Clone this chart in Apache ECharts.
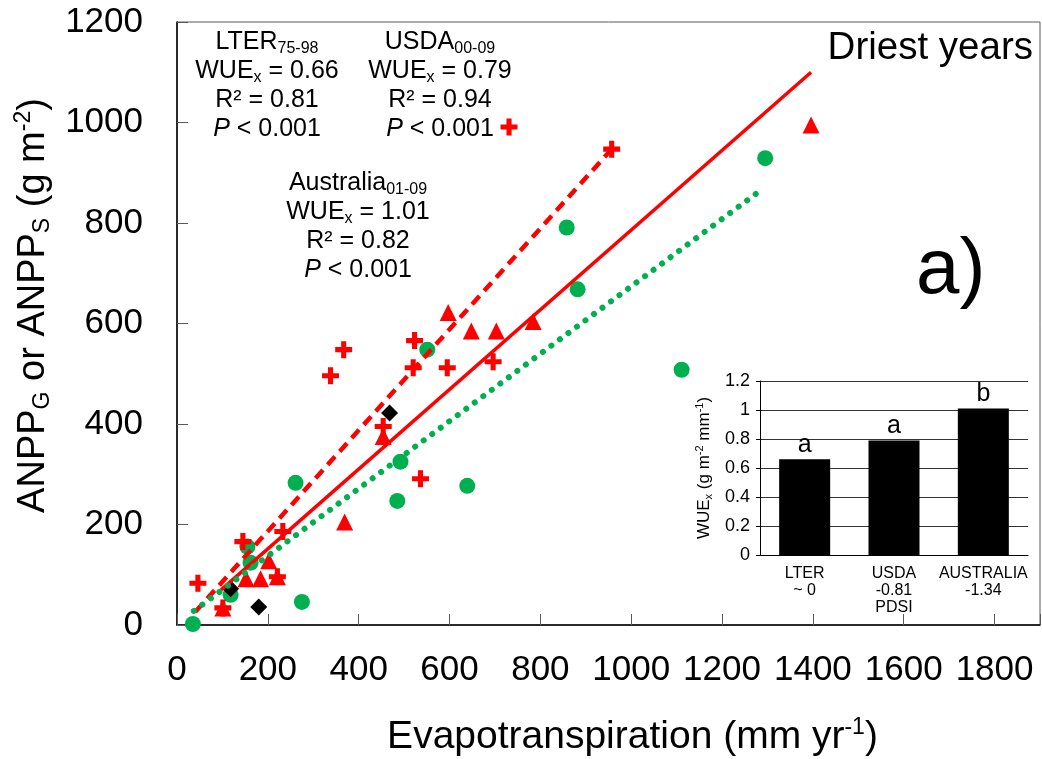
<!DOCTYPE html>
<html>
<head>
<meta charset="utf-8">
<script src="https://cdn.jsdelivr.net/npm/echarts@6/dist/echarts.min.js"></script>
<style>
  html, body { margin: 0; padding: 0; background: #fff; }
  #chart { width: 1042px; height: 759px; }
</style>
</head>
<body>
<div id="chart"></div>
<script>
// USDA 00-09 (red crosses)
const usdaX = [46, 101, 145, 221, 233, 338, 367, 454, 520, 523, 536, 595, 696, 731, 957]
const usdaY = [83, 34, 166, 96, 186, 496, 548, 395, 512, 566, 291, 512, 524, 991, 947]
// LTER 75-98 (red triangles)
const lterX = [101, 152, 184, 202, 221, 369, 454, 597, 648, 703, 784, 1396]
const lterY = [34, 92, 92, 128, 96, 205, 375, 622, 585, 585, 604, 995]
// Australia 01-09 (green circles)
const austX = [35, 118, 155, 162, 261, 275, 485, 492, 551, 639, 858, 882, 1111, 1295]
const austY = [2, 60, 156, 124, 283, 46, 247, 325, 548, 277, 791, 668, 508, 929]
// black diamonds
const otherX = [118, 180, 468]
const otherY = [72, 36, 422]
// fitted lines (end points)
const lterFitX = [97, 1396]
const lterFitY = [70, 1100]
const usdaFitX = [40, 957]
const usdaFitY = [26, 947]
const austFitX = [37, 1282]
const austFitY = [28, 863]
// inset bars
const insetCats = ['LTER\n~ 0', 'USDA\n-0.81\nPDSI', 'AUSTRALIA\n-1.34']
const insetWue = [0.66, 0.79, 1.01]
const insetLetters = ['a', 'a', 'b']

const FONT = 'Liberation Sans, Arial, sans-serif'
const RED = '#ff0000'
const GREEN = '#00b050'
const CROSS = 'path://M3.5,0H6.5V3.5H10V6.5H6.5V10H3.5V6.5H0V3.5H3.5Z'

const zip = (xs, ys) => xs.map((x, i) => [x, ys[i]])

const rich = {
  n: { fontSize: 25, lineHeight: 29, fontFamily: FONT, color: '#000' },
  i: { fontSize: 25, lineHeight: 29, fontFamily: FONT, fontStyle: 'italic', color: '#000' },
  sub: { fontSize: 16, lineHeight: 12, fontFamily: FONT, verticalAlign: 'bottom', color: '#000' }
}

function note(x, y, text) {
  return {
    type: 'text', x: x, y: y, z: 100,
    style: { text: text, rich: rich, align: 'center', textAlign: 'center', verticalAlign: 'top', textVerticalAlign: 'top' }
  }
}

const chart = echarts.init(document.getElementById('chart'))
chart.setOption({
  backgroundColor: '#fff',
  animation: false,
  textStyle: { fontFamily: FONT },
  grid: [
    { left: 177, top: 22, width: 863, height: 603, outerBoundsMode: 'none', containLabel: false,
      show: true, borderColor: '#595959', borderWidth: 1 },
    { left: 760, top: 381, width: 268, height: 174, outerBoundsMode: 'none', containLabel: false }
  ],
  xAxis: [{
    gridIndex: 0,
    type: 'value', min: 0, max: 1900, interval: 200,
    name: '{n|Evapotranspiration (mm yr}{sup|-1}{n|)}',
    nameLocation: 'middle', nameGap: 91,
    nameTextStyle: {
      padding: [0, 0, 0, 48],
      rich: {
        n: { fontSize: 39, fontFamily: FONT, color: '#000', lineHeight: 42 },
        sup: { fontSize: 23, fontFamily: FONT, color: '#000', lineHeight: 22, verticalAlign: 'top' }
      }
    },
    axisLine: { lineStyle: { color: '#000', width: 1.5 } },
    axisTick: { inside: true, length: 11, lineStyle: { color: '#595959' } },
    axisLabel: { fontSize: 35, color: '#000', margin: 28, formatter: v => (v > 1800 ? '' : String(v)) },
    splitLine: { show: false }
  }, {
    gridIndex: 1,
    type: 'category', data: insetCats,
    axisLine: { lineStyle: { color: '#000' } },
    axisTick: { length: 5, lineStyle: { color: '#000' } },
    axisLabel: { fontSize: 16, lineHeight: 17, color: '#000', margin: 10, interval: 0 }
  }],
  yAxis: [{
    gridIndex: 0,
    type: 'value', min: 0, max: 1200, interval: 200,
    name: '{n|ANPP}{sub|G}{n| or ANPP}{sub|S}{n| (g m}{sup|-2}{n|)}',
    nameLocation: 'middle', nameGap: 122,
    nameTextStyle: {
      padding: [0, 0, 0, 36],
      rich: {
        n: { fontSize: 38, fontFamily: FONT, color: '#000', lineHeight: 42 },
        sub: { fontSize: 23, fontFamily: FONT, color: '#000', lineHeight: 18, verticalAlign: 'bottom' },
        sup: { fontSize: 23, fontFamily: FONT, color: '#000', lineHeight: 22, verticalAlign: 'top' }
      }
    },
    axisLine: { lineStyle: { color: '#000', width: 1.5 } },
    axisTick: { inside: true, length: 11, lineStyle: { color: '#595959' } },
    axisLabel: { fontSize: 35, color: '#000', margin: 34, formatter: v => String(v) },
    splitLine: { show: false }
  }, {
    gridIndex: 1,
    type: 'value', min: 0, max: 1.2, interval: 0.2,
    name: '{n|WUE}{sub|x}{n| (g m}{sup|-2}{n| mm}{sup|-1}{n|)}',
    nameLocation: 'middle', nameGap: 46,
    nameTextStyle: {
      rich: {
        n: { fontSize: 17, fontFamily: FONT, color: '#000', lineHeight: 20 },
        sub: { fontSize: 11, fontFamily: FONT, color: '#000', lineHeight: 9, verticalAlign: 'bottom' },
        sup: { fontSize: 11, fontFamily: FONT, color: '#000', lineHeight: 10, verticalAlign: 'top' }
      }
    },
    axisLine: { show: true, lineStyle: { color: '#000' } },
    axisTick: { show: true, length: 4, lineStyle: { color: '#000' } },
    axisLabel: { fontSize: 18, color: '#000', margin: 10, formatter: v => String(+v.toFixed(1)) },
    splitLine: { show: true, lineStyle: { color: '#333', width: 1 } }
  }],
  series: [
    {
      name: 'Australia', type: 'scatter', xAxisIndex: 0, yAxisIndex: 0,
      symbol: 'circle', symbolSize: 16, itemStyle: { color: GREEN, opacity: 1 },
      data: zip(austX, austY), z: 2
    },
    {
      name: 'Other', type: 'scatter', xAxisIndex: 0, yAxisIndex: 0,
      symbol: 'diamond', symbolSize: 17, itemStyle: { color: '#000', opacity: 1 },
      data: zip(otherX, otherY), z: 3
    },
    {
      name: 'LTER', type: 'scatter', xAxisIndex: 0, yAxisIndex: 0,
      symbol: 'triangle', symbolSize: 17, itemStyle: { color: RED, opacity: 1 },
      data: zip(lterX, lterY), z: 3
    },
    {
      name: 'USDA', type: 'scatter', xAxisIndex: 0, yAxisIndex: 0,
      symbol: CROSS, symbolSize: 17, itemStyle: { color: RED, opacity: 1 },
      data: zip(usdaX, usdaY), z: 4
    },
    {
      name: 'LTER fit', type: 'line', xAxisIndex: 0, yAxisIndex: 0,
      data: zip(lterFitX, lterFitY), showSymbol: false, z: 5,
      lineStyle: { color: RED, width: 3.5 }
    },
    {
      name: 'USDA fit', type: 'line', xAxisIndex: 0, yAxisIndex: 0,
      data: zip(usdaFitX, usdaFitY), showSymbol: false, z: 5,
      lineStyle: { color: RED, width: 4.5, type: [11, 7] }
    },
    {
      name: 'Australia fit', type: 'line', xAxisIndex: 0, yAxisIndex: 0,
      data: zip(austFitX, austFitY), showSymbol: false, z: 5,
      lineStyle: { color: GREEN, width: 6, type: [0.1, 10.5], cap: 'round' }
    },
    {
      name: 'WUEx', type: 'bar', xAxisIndex: 1, yAxisIndex: 1,
      data: insetWue, barWidth: 51,
      itemStyle: { color: '#000' },
      label: {
        show: true, position: 'top', distance: 2, fontSize: 25, color: '#000',
        formatter: p => insetLetters[p.dataIndex]
      }
    }
  ],
  graphic: [
    note(267, 28, '{n|LTER}{sub|75-98}\n{n|WUE}{sub|x}{n| = 0.66}\n{n|R² = 0.81}\n{i|P}{n| < 0.001}'),
    note(440, 28, '{n|USDA}{sub|00-09}\n{n|WUE}{sub|x}{n| = 0.79}\n{n|R² = 0.94}\n{i|P}{n| < 0.001}'),
    note(358, 169, '{n|Australia}{sub|01-09}\n{n|WUE}{sub|x}{n| = 1.01}\n{n|R² = 0.82}\n{i|P}{n| < 0.001}'),
    {
      type: 'text', right: 9, top: 29, z: 100,
      style: { text: 'Driest years', fontSize: 38.5, fontFamily: FONT, fill: '#000' }
    },
    {
      type: 'text', left: 916, top: 232, z: 100,
      style: { text: 'a)', fontSize: 78, fontFamily: FONT, fill: '#000' }
    }
  ]
})
</script>
</body>
</html>
